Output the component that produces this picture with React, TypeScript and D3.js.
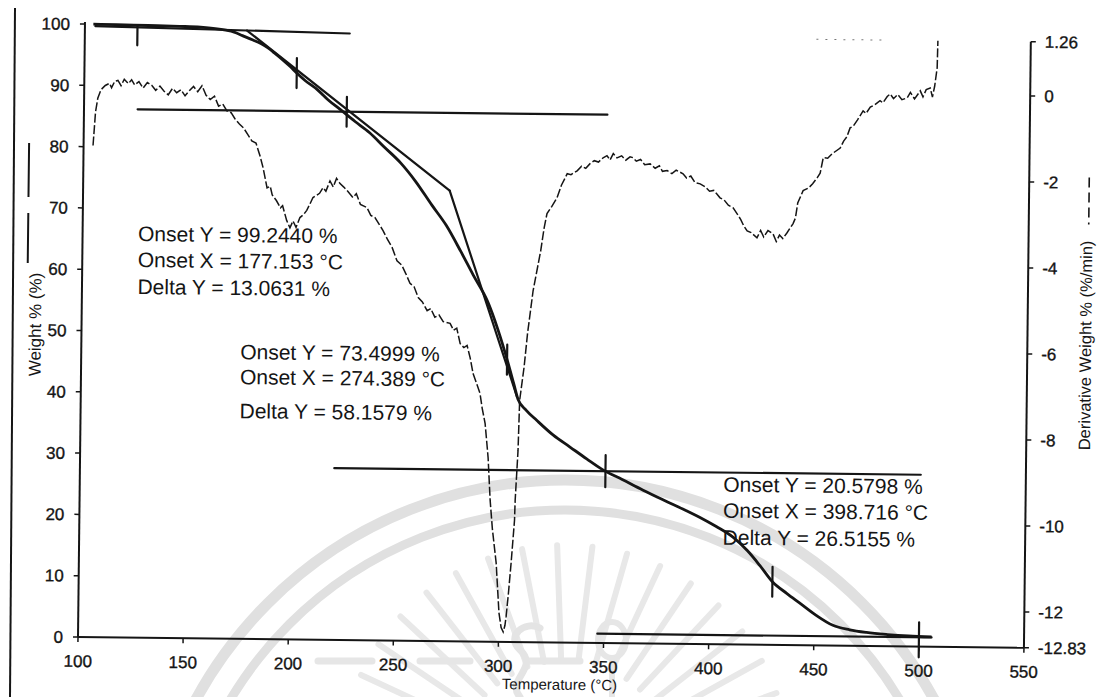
import React from "react";
import * as d3 from "d3";

// Axis ticks
const tempTicks = [100, 150, 200, 250, 300, 350, 400, 450, 500, 550];
const weightTicks = [0, 10, 20, 30, 40, 50, 60, 70, 80, 90, 100];
const rateTicks = [1.26, 0, -2, -4, -6, -8, -10, -12, -12.83];
const rateTickLabels = ["1.26", "0", "-2", "-4", "-6", "-8", "-10", "-12", "-12.83"];

// TGA weight curve (°C, %)
const weightTemps = [
  104, 115, 130, 145, 155, 162, 167, 171, 175, 180, 184, 187, 190, 194, 198, 201, 205, 211, 216, 222,
  229, 236, 243, 251, 258, 266, 273, 280, 286, 293, 298, 303, 306, 308, 312, 317, 325, 333, 341, 349,
  358, 368, 378, 387, 395, 403, 411, 418, 424, 430, 437, 443, 451, 459, 467, 475, 485, 495, 506,
];
const weightValues = [
  100.0, 99.95, 99.88, 99.8, 99.7, 99.5, 99.25, 98.95, 98.4, 97.7, 97.1, 96.5, 95.7, 94.6, 93.4, 92.4, 91.2, 89.7, 88.1, 86.5,
  84.6, 82.8, 80.5, 77.9, 75.0, 71.1, 67.8, 63.6, 59.8, 55.5, 51.0, 45.6, 42.0, 39.6, 37.8, 36.2, 33.8, 31.9, 30.0, 28.2,
  26.7, 25.0, 23.4, 22.0, 20.7, 19.2, 17.5, 15.3, 12.9, 10.3, 8.4, 6.9, 4.9, 3.3, 2.6, 2.2, 1.9, 1.7, 1.6,
];

// DTG derivative curve (°C, %/min)
const rateTemps = [
  104.5, 105.5, 106.5, 108, 110, 112, 113, 114.5, 116, 117.5, 119, 121, 122.5, 124, 126, 128, 130, 132, 134, 136,
  138, 140, 142, 144, 146, 148, 150, 152, 154, 156, 158, 160, 162, 164, 166, 168, 170, 172, 174, 176,
  178, 180, 182, 184, 185.5, 187.5, 189, 190, 192, 194, 195, 197, 198.6, 200, 201.5, 203.3, 205, 206.5, 208, 209.4,
  211, 212.5, 214.1, 215.5, 217.4, 219, 220.5, 222.2, 224, 226, 228.4, 230, 232, 235.1, 237, 239, 242.9, 245, 247.3, 249.7,
  252, 254, 256, 258, 260, 262, 264.3, 266, 268, 270, 272, 275.3, 277, 278.5, 280.2, 282, 283.5, 285, 286.5, 288,
  289.9, 291, 292.5, 294.1, 295.3, 296.5, 297.5, 298.5, 300.1, 301.2, 302.2, 303.0, 303.5, 304.5, 305.6, 307.0, 307.2, 308.3, 308.8, 310.7,
  312.2, 314.6, 318, 319.5, 320.8, 323, 325.5, 327.5, 330.2, 332, 334.9, 337, 339, 341, 343, 345, 347.2, 349, 350.5, 352,
  353.8, 356, 358, 360, 361.4, 363, 365, 367, 369.6, 372, 374, 375.5, 377.7, 380, 382, 385.3, 387, 389, 391, 393.5,
  396, 398, 400, 401.5, 403, 405, 407, 409.3, 411, 413, 414.5, 416.1, 418, 420.8, 422.5, 424, 426, 428.4, 430, 431.5,
  433.1, 435, 437.9, 439, 440, 442.5, 445, 447, 449.1, 450.5, 451.9, 454, 456, 459.9, 461.5, 463, 464.5, 466, 468, 470.6,
  472, 474, 476, 478.6, 480, 482, 483.4, 485, 487, 489, 491.5, 493, 495, 497.7, 499, 500.5, 502.4, 503.5, 504.5, 505.6,
  505.8,
];
const rateValues = [
  -1.4, -0.62, -0.3, -0.1, 0.0, 0.05, -0.05, 0.1, 0.12, 0.0, 0.15, 0.05, 0.14, 0.02, 0.1, -0.05, 0.08, 0.02, -0.1, 0.0,
  -0.12, -0.2, -0.05, -0.15, -0.08, -0.22, -0.1, 0.0, -0.12, 0.02, -0.2, -0.3, -0.22, -0.45, -0.4, -0.56, -0.6, -0.75, -0.86, -0.95,
  -1.1, -1.25, -1.3, -1.6, -1.87, -2.34, -2.3, -2.5, -2.63, -2.8, -2.75, -3.09, -3.26, -3.1, -3.25, -3.02, -2.95, -2.85, -2.7, -2.55,
  -2.5, -2.45, -2.32, -2.4, -2.16, -2.3, -2.1, -2.22, -2.3, -2.4, -2.54, -2.45, -2.7, -2.77, -2.95, -3.0, -3.3, -3.5, -3.69, -4.0,
  -4.1, -4.3, -4.52, -4.6, -4.85, -4.95, -5.15, -5.1, -5.3, -5.25, -5.4, -5.44, -5.6, -5.55, -5.91, -6.0, -5.95, -6.23, -6.6, -6.8,
  -7.06, -7.4, -7.76, -8.55, -9.54, -10.2, -10.6, -11.0, -12.16, -12.5, -12.6, -12.45, -12.25, -11.7, -11.0, -10.0, -9.54, -8.37, -7.21, -6.45,
  -5.65, -4.66, -3.73, -3.2, -2.86, -2.7, -2.49, -2.2, -1.93, -1.95, -1.86, -1.75, -1.8, -1.69, -1.62, -1.65, -1.55, -1.5, -1.6, -1.45,
  -1.55, -1.5, -1.6, -1.52, -1.54, -1.62, -1.58, -1.7, -1.68, -1.78, -1.72, -1.85, -1.83, -1.9, -1.82, -1.9, -2.0, -1.95, -2.1, -2.13,
  -2.2, -2.3, -2.28, -2.36, -2.45, -2.5, -2.62, -2.68, -2.8, -2.95, -3.1, -3.21, -3.25, -3.37, -3.2, -3.35, -3.2, -3.27, -3.45, -3.3,
  -3.38, -3.25, -3.03, -2.9, -2.55, -2.26, -2.2, -2.1, -1.96, -1.85, -1.49, -1.5, -1.4, -1.26, -1.1, -1.0, -0.79, -0.75, -0.6, -0.39,
  -0.45, -0.3, -0.25, -0.15, -0.2, -0.05, 0.01, -0.1, 0.0, -0.12, -0.08, 0.05, -0.1, 0.09, -0.05, 0.12, 0.16, -0.05, 0.2, 0.63,
  1.26,
];
// off-scale stretch of the derivative trace, pinned to the top of its axis
const clippedRateTemps = [448, 479];

// Step analysis results
const onsetTemps = [177.153, 274.389, 398.716];
const onsetWeights = [99.244, 73.4999, 20.5798];
const deltaWeights = [13.0631, 58.1579, 26.5155];
const baselineSlope = -0.006; // %/°C of the initial baseline
const steepTangentEnd = [307.5, 40.0]; // where the second tangent meets the curve
const baselineSpan = [105, 226];
const levelSpans = [
  [125.5, 349],
  [221, 500],
  [347, 506],
];
const limitTemps = [125, 225, 350, 500];
const inflectionTemps = [201, 302.6, 430];

const FONT = "'Liberation Sans', Arial, Helvetica, sans-serif";
const INK = "#151515";

export default function App() {
  const x = d3.scaleLinear().domain([100, 550]).range([78, 1024]);
  const yW = d3.scaleLinear().domain([0, 100]).range([637, 24]);
  const yD = d3.scaleLinear().domain([-12.83, 1.26]).range([637, 31]);

  const weightAt = (t: number) => {
    const i = d3.bisectLeft(weightTemps, t);
    if (i <= 0) return weightValues[0];
    if (i >= weightTemps.length) return weightValues[weightValues.length - 1];
    const t0 = weightTemps[i - 1], t1 = weightTemps[i];
    const w0 = weightValues[i - 1], w1 = weightValues[i];
    return w0 + ((w1 - w0) * (t - t0)) / (t1 - t0);
  };

  const weightLine = d3
    .line<number>()
    .x((_, i) => x(weightTemps[i]))
    .y((d) => yW(d))
    .curve(d3.curveMonotoneX);
  const rateLine = d3
    .line<number>()
    .x((_, i) => x(rateTemps[i]))
    .y((d) => yD(d));

  // derived levels
  const levels: number[] = [];
  let lv = onsetWeights[0];
  deltaWeights.forEach((d) => {
    lv -= d;
    levels.push(lv);
  });
  const baseAt = (t: number) => onsetWeights[0] + baselineSlope * (t - onsetTemps[0]);

  const annotations = [
    { x: 133.5, ys: [233, 259, 286], i: 0 },
    { x: 237, ys: [350, 375, 409], i: 1 },
    { x: 721.5, ys: [477, 503, 530], i: 2 },
  ];
  const fmt = (v: number, d: number) => v.toFixed(d);

  // background seal geometry
  const wmC = [565, 900];
  const rayAngles = d3.range(196, 346, 9);

  const tickText = { fontSize: 17, fill: INK, stroke: INK, strokeWidth: 0.35 } as const;

  return (
    <svg
      width={1099}
      height={697}
      style={{ position: "absolute", left: 0, top: 0, display: "block" }}
      fontFamily={FONT}
    >
      <rect width={1099} height={697} fill="#fff" />

      {/* faint seal in the background */}
      <g fill="none" stroke="#e0e0e0" strokeLinecap="round">
        <circle cx={wmC[0]} cy={wmC[1]} r={420} strokeWidth={11} />
        <circle cx={wmC[0]} cy={wmC[1]} r={390} strokeWidth={9} />
        {rayAngles.map((a) => {
          const r = (a * Math.PI) / 180;
          return (
            <line
              key={a}
              x1={565 + 110 * Math.cos(r)}
              y1={770 + 110 * Math.sin(r)}
              x2={565 + 225 * Math.cos(r)}
              y2={770 + 225 * Math.sin(r)}
              strokeWidth={6}
              stroke="#e8e8e8"
            />
          );
        })}
        <line x1={318} y1={661} x2={372} y2={661} strokeWidth={7} stroke="#e6e6e6" />
        <line x1={420} y1={661} x2={470} y2={661} strokeWidth={7} stroke="#e6e6e6" />
        <line x1={530} y1={661} x2={580} y2={661} strokeWidth={7} stroke="#e6e6e6" />
        <path d="M520,697 C505,680 540,668 520,650 C505,636 525,620 540,628" strokeWidth={7} stroke="#e4e4e4" />
        <ellipse cx={612} cy={640} rx={14} ry={18} strokeWidth={6} stroke="#e6e6e6" />
        <line x1={612} y1={658} x2={612} y2={697} strokeWidth={6} stroke="#e6e6e6" />
      </g>

      {/* page edge */}
      <line x1={15} y1={8} x2={10} y2={697} stroke={INK} strokeWidth={2} />

      <g transform="rotate(0.65 78 637)">
        {/* axes */}
        <g stroke={INK} strokeWidth={2} fill="none">
          <line x1={x(100)} y1={yW(0)} x2={x(100)} y2={yW(100) - 2} />
          <line x1={x(100)} y1={yW(0)} x2={x(550)} y2={yW(0)} />
          <line x1={x(550)} y1={yD(-12.83)} x2={x(550)} y2={yD(1.26)} />
        </g>
        {weightTicks.map((t) => (
          <g key={"w" + t}>
            <line x1={x(100) - 5} x2={x(100)} y1={yW(t)} y2={yW(t)} stroke={INK} strokeWidth={1.5} />
            <text x={x(100) - 15} y={yW(t)} dy="0.35em" textAnchor="end" {...tickText}>
              {t}
            </text>
          </g>
        ))}
        {tempTicks.map((t) => (
          <g key={"t" + t}>
            <line x1={x(t)} x2={x(t)} y1={yW(0)} y2={yW(0) + 5} stroke={INK} strokeWidth={1.5} />
            <text x={x(t)} y={yW(0) + 24} dy="0.35em" textAnchor="middle" {...tickText}>
              {t}
            </text>
          </g>
        ))}
        {rateTicks.map((t, i) => (
          <g key={"r" + t}>
            <line x1={x(550)} x2={x(550) + 5} y1={yD(t)} y2={yD(t)} stroke={INK} strokeWidth={1.5} />
            <text x={x(550) + 14} y={yD(t)} dy="0.35em" textAnchor="start" {...tickText}>
              {rateTickLabels[i]}
            </text>
          </g>
        ))}

        {/* axis titles and series keys */}
        <text x={560} y={679} dy="0.35em" textAnchor="middle" fontSize={15} fill={INK}>
          Temperature (°C)
        </text>
        <text
          x={31.5}
          y={325}
          dy="0.35em"
          textAnchor="middle"
          fontSize={17}
          fill={INK}
          transform="rotate(-90 31.5 325)"
        >
          Weight % (%)
        </text>
        <line x1={23.5} x2={23.5} y1={143.5} y2={263.5} stroke={INK} strokeWidth={2} strokeDasharray="54 16 60" />
        <text
          x={1082}
          y={334}
          dy="0.35em"
          textAnchor="middle"
          fontSize={16.5}
          fill={INK}
          transform="rotate(-90 1082 334)"
        >
          Derivative Weight % (%/min)
        </text>
        <line x1={1084} x2={1084} y1={166} y2={213} stroke={INK} strokeWidth={1.6} strokeDasharray="10 5" />

        {/* DTG curve */}
        <path d={rateLine(rateValues) || ""} fill="none" stroke={INK} strokeWidth={1.5} strokeDasharray="9 2.5" />
        <line
          x1={x(clippedRateTemps[0])}
          x2={x(clippedRateTemps[1])}
          y1={yD(1.26)}
          y2={yD(1.26)}
          stroke="#777"
          strokeWidth={1}
          strokeDasharray="2 7"
        />

        {/* step-analysis construction lines */}
        <g stroke={INK} strokeWidth={2.2} fill="none" strokeLinecap="round">
          <line
            x1={x(baselineSpan[0])}
            y1={yW(baseAt(baselineSpan[0]))}
            x2={x(baselineSpan[1])}
            y2={yW(baseAt(baselineSpan[1]))}
          />
          <line x1={x(onsetTemps[0])} y1={yW(onsetWeights[0])} x2={x(onsetTemps[1])} y2={yW(onsetWeights[1])} />
          <line
            x1={x(onsetTemps[1])}
            y1={yW(onsetWeights[1])}
            x2={x(steepTangentEnd[0])}
            y2={yW(steepTangentEnd[1])}
          />
          {levels.map((l, i) => (
            <line key={"lv" + i} x1={x(levelSpans[i][0])} x2={x(levelSpans[i][1])} y1={yW(l)} y2={yW(l)} />
          ))}
          {/* limit markers */}
          <line x1={x(limitTemps[0])} x2={x(limitTemps[0])} y1={yW(baseAt(limitTemps[0])) - 1} y2={yW(baseAt(limitTemps[0])) + 18} />
          <line x1={x(limitTemps[1])} x2={x(limitTemps[1])} y1={yW(levels[0]) - 15} y2={yW(levels[0]) + 15} />
          <line x1={x(limitTemps[2])} x2={x(limitTemps[2])} y1={yW(levels[1]) - 16} y2={yW(levels[1]) + 16} />
          <line x1={x(limitTemps[3])} x2={x(limitTemps[3])} y1={yW(levels[2]) - 15} y2={yW(levels[2]) + 20} />
          {/* inflection markers */}
          {inflectionTemps.map((t) => (
            <line key={"in" + t} x1={x(t)} x2={x(t)} y1={yW(weightAt(t)) - 15} y2={yW(weightAt(t)) + 15} />
          ))}
        </g>

        {/* TGA curve */}
        <path d={weightLine(weightValues) || ""} fill="none" stroke={INK} strokeWidth={2.8} strokeLinejoin="round" />

        {/* step annotations */}
        {annotations.map((a) => {
          const lines = [
            `Onset Y = ${fmt(onsetWeights[a.i], 4)} %`,
            `Onset X = ${fmt(onsetTemps[a.i], 3)} °C`,
            `Delta Y = ${fmt(deltaWeights[a.i], 4)} %`,
          ];
          return lines.map((s, k) => (
            <text key={a.i + "-" + k} x={a.x} y={a.ys[k]} dy="0.35em" fontSize={21} fill={INK}>
              {s}
            </text>
          ));
        })}
      </g>
    </svg>
  );
}
